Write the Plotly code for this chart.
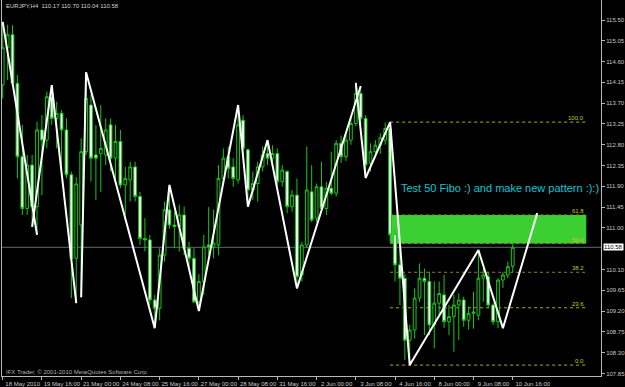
import plotly.graph_objects as go

# ---------------- data (H4 bars, index 0 = 18 May 2010 08:00) ----------------
bars = list(range(105))
opens = [114.10, 114.90, 115.18, 114.13, 112.54, 111.42, 112.36, 111.46, 113.12, 112.90,
         113.84, 113.37, 113.48, 113.12, 112.15, 110.34, 111.06, 112.65, 113.66, 112.58,
         112.61, 112.58, 113.23, 112.51, 112.87, 111.93, 112.04, 112.32, 111.68, 110.77,
         110.74, 109.44, 109.26, 110.41, 111.39, 111.06, 111.03, 111.28, 110.56, 110.34,
         109.40, 109.84, 110.63, 110.59, 110.63, 112.07, 112.54, 112.32, 112.04, 113.33,
         112.69, 111.82, 111.96, 112.32, 112.61, 112.51, 112.61, 112.00, 112.22, 111.46,
         111.71, 109.98, 110.63, 111.78, 111.21, 111.89, 111.42, 111.86, 111.75, 112.83,
         112.54, 112.90, 113.26, 113.91, 113.37, 112.40, 112.65, 112.79, 112.90, 113.15,
         110.85, 110.20, 109.91, 108.57, 108.79, 109.48, 109.91, 109.84, 108.90, 109.37,
         109.55, 108.97, 109.08, 109.33, 109.44, 109.00, 109.15, 109.11, 109.91, 109.94,
         109.33, 108.97, 109.87, 109.98, 110.17]
highs = [115.46, 115.40, 115.39, 114.31, 113.23, 112.58, 112.58, 113.30, 113.44, 113.95,
         114.09, 113.73, 113.55, 113.37, 112.22, 112.10, 112.94, 114.37, 113.88, 113.23,
         113.66, 113.37, 113.37, 113.23, 113.12, 112.32, 112.43, 112.43, 111.78, 111.21,
         110.85, 109.55, 110.56, 111.57, 111.93, 111.35, 111.50, 111.46, 110.70, 110.56,
         110.00, 110.85, 111.45, 111.40, 112.36, 112.72, 112.76, 112.51, 113.66, 113.44,
         112.72, 112.22, 112.43, 112.76, 112.90, 112.79, 112.72, 112.36, 112.25, 111.82,
         112.07, 110.70, 112.76, 112.36, 111.96, 112.43, 112.00, 112.65, 112.90, 113.00,
         113.05, 113.40, 114.14, 114.07, 113.44, 112.83, 112.90, 113.05, 113.28, 113.29,
         110.99, 110.55, 110.00, 108.90, 109.69, 110.23, 110.12, 110.05, 109.84, 109.84,
         109.98, 109.33, 109.55, 109.58, 109.51, 109.30, 109.62, 110.52, 110.12, 110.05,
         109.37, 109.91, 110.05, 110.27, 110.70]
lows = [113.80, 114.20, 114.06, 112.07, 111.28, 111.28, 111.02, 110.85, 111.71, 112.72,
        113.23, 112.72, 112.36, 112.07, 109.48, 109.37, 109.50, 112.58, 112.00, 111.60,
        111.78, 112.36, 112.22, 112.00, 111.86, 111.28, 111.57, 111.57, 110.63, 110.49,
        109.33, 108.83, 109.00, 110.27, 110.98, 110.56, 110.49, 110.41, 110.12, 109.37,
        109.20, 109.55, 110.41, 110.34, 110.41, 111.96, 112.07, 111.89, 111.96, 112.58,
        111.46, 111.60, 111.57, 112.22, 112.36, 112.40, 111.93, 111.89, 111.32, 111.35,
        109.69, 109.84, 110.56, 111.13, 111.13, 111.35, 111.28, 111.71, 111.68, 112.40,
        112.45, 112.80, 113.20, 113.25, 112.08, 112.22, 112.54, 112.60, 112.80, 110.70,
        109.84, 109.33, 108.14, 108.03, 108.60, 109.40, 108.68, 108.68, 108.39, 109.11,
        108.83, 108.68, 108.32, 108.57, 108.86, 108.80, 108.82, 109.00, 109.40, 109.26,
        108.90, 108.83, 109.70, 109.91, 110.04]
closes = [114.90, 115.18, 114.13, 112.54, 111.42, 112.36, 111.46, 113.12, 112.90, 113.84,
          113.37, 113.48, 113.12, 112.15, 110.34, 111.95, 112.65, 113.80, 112.51, 112.51,
          112.72, 113.12, 112.51, 112.87, 111.93, 112.07, 112.32, 111.68, 110.77, 110.74,
          109.44, 109.26, 110.41, 111.39, 111.06, 111.03, 111.28, 110.56, 110.34, 109.40,
          109.84, 110.59, 110.59, 110.67, 112.07, 112.51, 112.29, 112.07, 113.23, 112.72,
          111.82, 111.96, 112.32, 112.58, 112.51, 112.61, 112.00, 112.25, 111.46, 111.71,
          109.94, 110.63, 111.82, 111.17, 111.89, 111.42, 111.86, 111.75, 112.83, 112.54,
          112.90, 113.26, 113.91, 113.37, 112.36, 112.65, 112.79, 112.95, 113.15, 110.85,
          110.20, 109.91, 108.57, 108.79, 109.48, 109.91, 109.84, 108.90, 109.37, 109.58,
          108.97, 109.08, 109.33, 109.44, 109.00, 109.15, 109.18, 109.91, 109.98, 109.33,
          108.97, 109.87, 109.98, 110.16, 110.58]

# hand-drawn zigzag / pattern lines (bar position, price); None = break
zz_x = [0, 7, None, 6, 10, 15, None, 16, 17, 31, 34, 40, 48, 50, 54, 60, 73, None,
        72, 74, 79, 83, 97, 102, 109]
zz_y = [115.46, 110.85, None, 111.02, 114.09, 109.37, None, 109.50, 114.37, 108.83,
        111.93, 109.20, 113.66, 111.46, 112.90, 109.69, 114.07, None,
        114.14, 112.08, 113.29, 108.03, 110.52, 108.83, 111.32]

# Fibonacci retracement
fib_high = 113.29
fib_low = 108.03
fib_start = 79
fib_end = 119
fib_levels = [0.0, 23.6, 38.2, 50.0, 61.8, 100.0]
fib_labels = ["0.0", "23.6", "38.2", "50.0", "61.8", "100.0"]

tick_bars = [0, 8, 16, 24, 32, 40, 48, 56, 64, 72, 80, 88, 96, 104]
tick_labels = ["18 May 2010", "19 May 16:00", "21 May 00:00", "24 May 08:00",
               "25 May 16:00", "27 May 00:00", "28 May 08:00", "31 May 16:00",
               "2 Jun 00:00", "3 Jun 08:00", "4 Jun 16:00", "8 Jun 00:00",
               "9 Jun 08:00", "10 Jun 16:00"]
price_ticks = [115.50, 115.05, 114.60, 114.15, 113.70, 113.25, 112.80, 112.35, 111.90,
               111.45, 111.00, 110.10, 109.65, 109.20, 108.75, 108.30, 107.85]

symbol_text = "EURJPY,H4  110.17 110.70 110.04 110.58"
bid_price = 110.58
note_text = "Test 50 Fibo :) and make new pattern :):)"
note_pos = (80.8, 111.86)
copyright_text = "IFX Trader, © 2001-2010 MetaQuotes Software Corp."

# ---------------- figure ----------------
FONT = "Liberation Sans, Arial, sans-serif"
AXC = "#b8b8b8"
fig = go.Figure()

fig.add_trace(go.Candlestick(
    x=bars, open=opens, high=highs, low=lows, close=closes,
    increasing=dict(line=dict(color="#14c814", width=1), fillcolor="black"),
    decreasing=dict(line=dict(color="#14c814", width=1), fillcolor="white"),
    hoverinfo="skip", showlegend=False))

fig.add_trace(go.Scatter(x=zz_x, y=zz_y, mode="lines", connectgaps=False,
                         line=dict(color="white", width=2), hoverinfo="skip",
                         showlegend=False))

def fib_price(lv):
    return fib_low + (fib_high - fib_low) * lv / 100.0

shapes = []
# green zone between 50 and 61.8
shapes.append(dict(type="rect", xref="x", yref="y", x0=fib_start, x1=fib_end,
                   y0=fib_price(50.0), y1=fib_price(61.8), fillcolor="#3ccf34",
                   line=dict(width=0), layer="below"))
# bid line
shapes.append(dict(type="line", xref="paper", yref="y", x0=0, x1=1,
                   y0=bid_price, y1=bid_price, line=dict(color="#5f6b76", width=1),
                   layer="below"))
for lv in fib_levels:
    col = "#8f8420" if lv in (50.0, 61.8, 38.2) else "#b0b010"
    shapes.append(dict(type="line", xref="x", yref="y", x0=fib_start, x1=fib_end,
                       y0=fib_price(lv), y1=fib_price(lv),
                       line=dict(color=col, width=1, dash="dot"), layer="below"))

annotations = []
for lv, lab in zip(fib_levels, fib_labels):
    annotations.append(dict(x=fib_end, y=fib_price(lv), xref="x", yref="y", text=lab,
                            showarrow=False, xanchor="right", yanchor="bottom",
                            yshift=-1, font=dict(family=FONT, size=6, color="#c8c81e")))
annotations.append(dict(x=note_pos[0], y=note_pos[1], xref="x", yref="y", text=note_text,
                        showarrow=False, xanchor="left", yanchor="middle",
                        font=dict(family=FONT, size=11, color="#12c4d2")))
annotations.append(dict(x=0.004, y=0.983, xref="paper", yref="paper", text=symbol_text,
                        showarrow=False, xanchor="left", yanchor="middle",
                        font=dict(family=FONT, size=6, color="#d0d0d0")))
annotations.append(dict(x=0.004, y=0.011, xref="paper", yref="paper", text=copyright_text,
                        showarrow=False, xanchor="left", yanchor="middle",
                        font=dict(family=FONT, size=6, color="#b0b0b0")))
annotations.append(dict(x=1, y=bid_price, xref="paper", yref="y", text="110.58",
                        showarrow=False, xanchor="left", yanchor="middle", xshift=2,
                        bgcolor="white", borderpad=0,
                        font=dict(family=FONT, size=6, color="black")))

fig.update_layout(
    width=625, height=387,
    margin=dict(l=2, r=24, t=0, b=11),
    paper_bgcolor="black", plot_bgcolor="black",
    shapes=shapes, annotations=annotations,
    showlegend=False, boxgap=0.2,
    xaxis=dict(range=[-0.143, 122.0], rangeslider=dict(visible=False),
               showgrid=False, zeroline=False, showline=True, linecolor=AXC, linewidth=1,
               tickmode="array", tickvals=tick_bars, ticktext=tick_labels,
               ticks="outside", ticklen=3, tickcolor=AXC, ticklabelshift=20,
               ticklabelstandoff=-1,
               tickfont=dict(family=FONT, size=6, color="#c8c8c8")),
    yaxis=dict(range=[107.794, 115.933], side="right", showgrid=False, zeroline=False,
               showline=True, mirror=True, linecolor=AXC, linewidth=1,
               tickmode="array", tickvals=price_ticks,
               ticktext=[f"{v:.2f}" for v in price_ticks],
               ticks="outside", ticklen=3, tickcolor=AXC,
               tickfont=dict(family=FONT, size=6, color="#c8c8c8")),
)

fig.write_html("out.html")
